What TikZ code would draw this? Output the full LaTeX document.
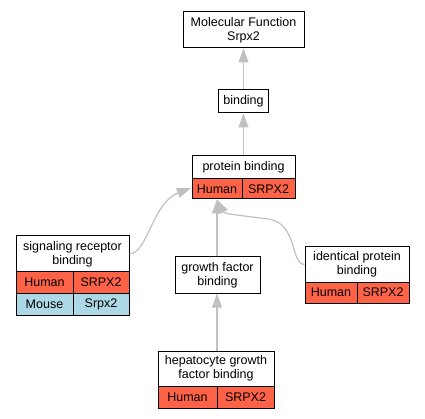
\documentclass[tikz,border=0pt]{standalone}
\usepackage{fontspec}
\setmainfont{Liberation Sans}
\usetikzlibrary{arrows.meta}
\definecolor{hred}{RGB}{255,99,71}
\definecolor{hblue}{RGB}{173,216,230}
\definecolor{egray}{RGB}{192,192,192}
\tikzset{
  box/.style={draw=black, line width=1pt, fill=white, inner sep=0pt, align=center,
    font=\fontsize{12.5}{14}\selectfont},
  hcell/.style={box, fill=hred},
  mcell/.style={box, fill=hblue},
  edge/.style={draw=egray, line width=1.2pt, -{Triangle[length=14pt,width=10pt]}}
}
\begin{document}
\begin{tikzpicture}[x=1pt,y=-1pt]
\useasboundingbox (0,0) rectangle (425,419);
% Molecular Function
\node[box, minimum width=121pt, minimum height=36pt] (mf) at (243.5,30) {Molecular Function\\Srpx2};
% binding
\node[box, minimum width=50pt, minimum height=23pt] (bind) at (243.5,101.5) {binding};
% protein binding
\node[box, minimum width=103pt, minimum height=23pt] (pb) at (243.5,167.5) {protein binding};
\node[hcell, minimum width=50pt, minimum height=20pt] (pbh) at (217,189) {Human};
\node[hcell, minimum width=53pt, minimum height=20pt] (pbs) at (268.5,189) {SRPX2};
% signaling receptor binding
\node[box, minimum width=113pt, minimum height=36pt] (srb) at (72.5,254) {signaling receptor\\binding};
\node[hcell, minimum width=57pt, minimum height=21pt] (srbh) at (44.5,282.5) {Human};
\node[hcell, minimum width=56pt, minimum height=21pt] (srbs) at (101,282.5) {SRPX2};
\node[mcell, minimum width=57pt, minimum height=22pt] (srbm) at (44.5,304) {Mouse};
\node[mcell, minimum width=56pt, minimum height=22pt] (srbx) at (101,304) {Srpx2};
% growth factor binding
\node[box, minimum width=85pt, minimum height=36pt] (gfb) at (217.5,275) {growth factor\\binding};
% identical protein binding
\node[box, minimum width=104pt, minimum height=35pt] (ipb) at (357,264.5) {identical protein\\binding};
\node[hcell, minimum width=52pt, minimum height=21pt] (ipbh) at (331,292.5) {Human};
\node[hcell, minimum width=52pt, minimum height=21pt] (ipbs) at (383,292.5) {SRPX2};
% hepatocyte growth factor binding
\node[box, minimum width=116pt, minimum height=35pt] (hgf) at (216,368.5) {hepatocyte growth\\factor binding};
\node[hcell, minimum width=59pt, minimum height=22pt] (hgfh) at (187.5,397) {Human};
\node[hcell, minimum width=57pt, minimum height=22pt] (hgfs) at (245.5,397) {SRPX2};
% connectors
\coordinate (pbtarget) at (217,199.5);
\coordinate (pbleft) at (191,188);
\draw[edge] (bind.north) -- (mf.south);
\draw[edge] (pb.north) -- (bind.south);
\draw[edge] (gfb.north -| pbtarget) -- (pbtarget);
\draw[edge] (hgf.north -| pbtarget) -- (gfb.south -| pbtarget);
\draw[edge] (srb.east) .. controls (148,253) and (152,203) .. (pbleft);
\draw[edge] (ipb.west) .. controls (290,264) and (298,223) .. (268,219)
  .. controls (238,215) and (224,214) .. (pbtarget);
\end{tikzpicture}
\end{document}
